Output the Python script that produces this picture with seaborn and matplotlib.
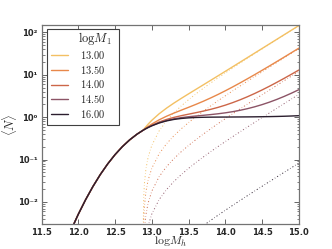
import numpy as np
import pandas as pd
import matplotlib
matplotlib.use('Agg')
import matplotlib.pyplot as plt
import seaborn as sns
from matplotlib.font_manager import FontProperties
from matplotlib.patches import Rectangle
from matplotlib.ticker import FixedLocator, FuncFormatter, NullFormatter

# halo mass grid (log10), below the satellite cut-off only centrals
logm_low = [11.9, 12.0, 12.1, 12.2, 12.3, 12.4, 12.5, 12.6, 12.7, 12.8]
n_cen_low = [0.00213, 0.00510, 0.01129, 0.0232, 0.0443, 0.0787, 0.1303,
             0.2015, 0.2919, 0.3975]

logm_hi = [12.881, 12.89, 12.9, 12.92, 12.95, 13.0, 13.1, 13.2, 13.3, 13.4,
           13.5, 13.6, 13.7, 13.8, 13.9, 14.0, 14.1, 14.2, 14.3, 14.4, 14.5,
           14.6, 14.7, 14.8, 14.9, 15.0]

# total occupation <N> for each logM1
n_tot_1300 = [0.4907, 0.5128, 0.5389, 0.5938, 0.6816, 0.8401, 1.2009, 1.6282,
              2.1395, 2.7634, 3.5398, 4.5188, 5.7653, 7.3637, 9.4092, 12.039,
              15.41, 19.75, 25.32, 32.45, 41.61, 53.36, 68.42, 87.77, 112.6, 144.4]
n_tot_1350 = [0.4899, 0.5037, 0.5194, 0.5516, 0.6013, 0.6867, 0.8642, 1.0491,
              1.2443, 1.4584, 1.7043, 2.0008, 2.3673, 2.8327, 3.4242, 4.1833,
              5.157, 6.408, 8.015, 10.07, 12.71, 16.10, 20.45, 26.02, 33.18, 42.34]
n_tot_1400 = [0.4897, 0.5011, 0.5138, 0.5394, 0.5781, 0.6425, 0.7671, 0.8821,
              0.9861, 1.0820, 1.1753, 1.2742, 1.3875, 1.5254, 1.6978, 1.9176,
              2.199, 2.560, 3.023, 3.616, 4.378, 5.355, 6.609, 8.217, 10.28, 12.92]
n_tot_1450 = [0.4896, 0.5003, 0.5122, 0.5359, 0.5714, 0.6298, 0.7391, 0.8339,
              0.9117, 0.9734, 1.0227, 1.0647, 1.1049, 1.1485, 1.2000, 1.2642,
              1.3455, 1.4497, 1.5833, 1.7545, 1.9741, 2.256, 2.617, 3.081, 3.677, 4.439]
n_tot_1600 = [0.4896, 0.5000, 0.5115, 0.5345, 0.5688, 0.6247, 0.7280, 0.8149,
              0.8822, 0.9305, 0.9623, 0.9818, 0.9930, 0.9994, 1.0030, 1.0056,
              1.0081, 1.0107, 1.0140, 1.0181, 1.0234, 1.0301, 1.0388, 1.0499,
              1.0642, 1.0825]

# satellite occupation only (dotted)
n_sat_1300 = [0.00105, 0.01278, 0.02735, 0.05934, 0.1129, 0.2155, 0.4732, 0.8138,
              1.258, 1.834, 2.579, 3.539, 4.775, 6.368, 8.411, 11.04, 14.41,
              18.75, 24.32, 31.45, 40.61, 52.36, 67.42, 86.77, 111.6, 143.4]
n_sat_1350 = [0.000304, 0.003684, 0.007885, 0.01712, 0.03255, 0.06214, 0.1365,
              0.2347, 0.3628, 0.5290, 0.7435, 1.021, 1.377, 1.837, 2.426, 3.184,
              4.157, 5.408, 7.015, 9.071, 11.71, 15.10, 19.45, 25.02, 32.18, 41.34]
n_sat_1400 = [8.76e-5, 0.001063, 0.002275, 0.004936, 0.009387, 0.01792, 0.03937,
              0.06768, 0.1046, 0.1526, 0.2145, 0.2944, 0.3972, 0.5297, 0.6996,
              0.9183, 1.199, 1.560, 2.023, 2.616, 3.378, 4.355, 5.609, 7.217,
              9.282, 11.92]
n_sat_1450 = [2.53e-5, 0.000306, 0.000656, 0.001423, 0.002707, 0.005167, 0.01135,
              0.01952, 0.03017, 0.04398, 0.06186, 0.08488, 0.1146, 0.1528, 0.2018,
              0.2649, 0.3457, 0.4498, 0.5833, 0.7545, 0.9741, 1.256, 1.617, 2.081,
              2.677, 3.439]
n_sat_1600 = [6.06e-7, 7.35e-6, 1.57e-5, 3.41e-5, 6.49e-5, 1.24e-4, 2.72e-4,
              4.68e-4, 7.24e-4, 0.001055, 0.001484, 0.002036, 0.002748, 0.003664,
              0.004840, 0.006353, 0.008295, 0.01079, 0.01399, 0.01810, 0.02336,
              0.03012, 0.03880, 0.04992, 0.06422, 0.08248]

labels = ['13.00', '13.50', '14.00', '14.50', '16.00']
colors = ['#f3c063', '#e8884a', '#cc6648', '#8c5466', '#2b1e2e']
totals = [n_tot_1300, n_tot_1350, n_tot_1400, n_tot_1450, n_tot_1600]
sats = [n_sat_1300, n_sat_1350, n_sat_1400, n_sat_1450, n_sat_1600]

sns.set_style('ticks', {'xtick.direction': 'in', 'ytick.direction': 'in',
                        'axes.edgecolor': '0.45'})
plt.rcParams['xtick.top'] = True
plt.rcParams['ytick.right'] = True

fig, ax = plt.subplots(figsize=(3.32, 2.49), dpi=100)
fig.subplots_adjust(left=0.125, right=0.9, bottom=0.1, top=0.9)

for sat, c in zip(sats, colors):
    df = pd.DataFrame({'logM': logm_hi, 'N': sat})
    sns.lineplot(data=df, x='logM', y='N', color=c, lw=0.7, alpha=0.9,
                 ls=(0, (1.2, 2.2, 0.6, 2.2)), estimator=None, sort=False, ax=ax)

handles = []
for tot, c in zip(totals, colors):
    df = pd.DataFrame({'logM': logm_low + logm_hi, 'N': n_cen_low + tot})
    sns.lineplot(data=df, x='logM', y='N', color=c, lw=1.0,
                 estimator=None, sort=False, ax=ax)
    handles.append(ax.lines[-1])

ax.set_yscale('log')
ax.set_xlim(11.5, 15.0)
ax.set_ylim(3e-3, 150)

ax.xaxis.set_major_locator(FixedLocator(np.arange(11.5, 15.01, 0.5)))
ax.xaxis.set_major_formatter(FuncFormatter(lambda v, p: f'{v:.1f}'))
sup = {-2: '⁻²', -1: '⁻¹', 0: '⁰', 1: '¹', 2: '²'}
ax.yaxis.set_major_locator(FixedLocator([1e-2, 1e-1, 1e0, 1e1, 1e2]))
ax.yaxis.set_major_formatter(
    FuncFormatter(lambda v, p: '10' + sup.get(int(round(np.log10(v))), '')))
minors = [m * 10.0 ** e for e in range(-3, 3) for m in range(2, 10)]
ax.yaxis.set_minor_locator(FixedLocator(minors))
ax.yaxis.set_minor_formatter(NullFormatter())
ax.tick_params(which='major', length=3.5, width=0.6, color='0.3',
               labelsize=6, pad=3)
ax.tick_params(which='minor', length=1.8, width=0.5, color='0.3')
for t in ax.get_xticklabels() + ax.get_yticklabels():
    t.set_fontweight('bold')
for s in ax.spines.values():
    s.set_linewidth(0.9)

ax.set_xlabel(r'$\mathrm{log}M_h$', fontsize=8.5, math_fontfamily='cm',
              labelpad=-1.5)
ax.set_ylabel(r'$\langle N\rangle$', fontsize=9, math_fontfamily='cm',
              labelpad=-1)

# legend frame and title drawn separately so the box can be wider than its text
ax.add_patch(Rectangle((0.0195, 0.496), 0.2813, 0.484, transform=ax.transAxes,
                       facecolor='white', edgecolor='0.25', lw=0.8, zorder=4))
leg = ax.legend(handles, ['$' + l + '$' for l in labels],
                loc='upper left', bbox_to_anchor=(0.0, 0.928),
                prop=FontProperties(size=7.5, math_fontfamily='cm'),
                frameon=False,
                borderaxespad=0.45, handlelength=1.6, handletextpad=1.1,
                labelspacing=0.25, borderpad=0.5)
leg.set_zorder(5)
ax.text(0.207, 0.93, r'$\mathrm{log}M_1$', transform=ax.transAxes,
        ha='center', va='center', fontsize=9, math_fontfamily='cm', zorder=6)

fig.savefig('out.png', dpi=100)
